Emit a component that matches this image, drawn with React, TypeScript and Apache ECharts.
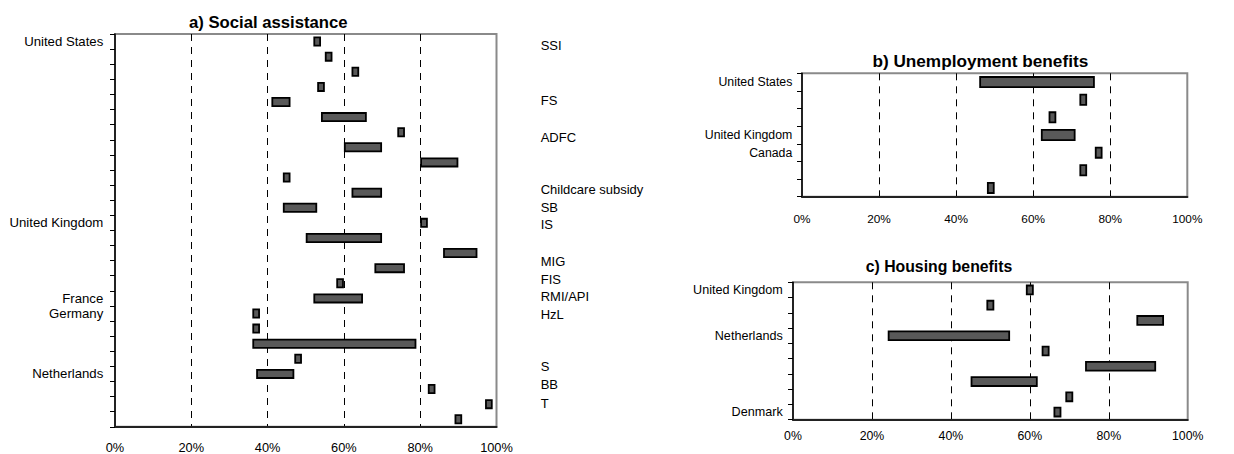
import React, { useEffect, useRef } from "react";
import * as echarts from "echarts";

// ---------- data ----------
// a) Social assistance (rows top to bottom)
const saCountries = [
  "United States", "", "", "", "", "", "", "", "", "", "", "",
  "United Kingdom", "", "", "", "", "France", "Germany", "", "", "",
  "Netherlands", "", "", "",
];
const saStart = [52, 55, 62, 53, 41, 54, 74, 60, 80, 44, 62, 44, 80, 50, 86, 68, 58, 52, 36, 36, 36, 47, 37, 82, 97, 89];
const saEnd = [54, 57, 64, 55, 46, 66, 76, 70, 90, 46, 70, 53, 82, 70, 95, 76, 60, 65, 38, 38, 79, 49, 47, 84, 99, 91];
const saPrograms = ["SSI", "FS", "ADFC", "Childcare subsidy", "SB", "IS", "MIG", "FIS", "RMI/API", "HzL", "S", "BB", "T"];

// b) Unemployment benefits
const ubCountries = ["United States", "", "", "United Kingdom", "Canada", "", ""];
const ubStart = [46, 72, 64, 62, 76, 72, 48];
const ubEnd = [76, 74, 66, 71, 78, 74, 50];

// c) Housing benefits
const hbCountries = ["United Kingdom", "", "", "Netherlands", "", "", "", "", "Denmark"];
const hbStart = [59, 49, 87, 24, 63, 74, 45, 69, 66];
const hbEnd = [61, 51, 94, 55, 65, 92, 62, 71, 68];

// x axis ticks (percent)
const xMin = 0;
const xMax = 100;
const xStep = 20;

const titles = ["a) Social assistance", "b) Unemployment benefits", "c) Housing benefits"];

// ---------- layout (pixels) ----------
const programLabelX = 540.7;
const programLabelY = [45, 100, 137, 189, 207, 224, 261, 279, 296, 314, 366, 384, 403];

const FONT = 'Arial, "Liberation Sans", sans-serif';

const panels = [
  {
    countries: saCountries, start: saStart, end: saEnd,
    grid: { left: 115, top: 34, width: 381.5, height: 396 },
    barWidth: 10, yFont: 13.2, xFont: 12.8, yMargin: 11.7, xMargin: 14.2,
    title: { x: 268.3, y: 22.5, size: 16.7 },
  },
  {
    countries: ubCountries, start: ubStart, end: ubEnd,
    grid: { left: 802, top: 73.3, width: 385.3, height: 123.4 },
    barWidth: 12, yFont: 12.3, xFont: 11.8, yMargin: 9.7, xMargin: 16.7,
    title: { x: 980.3, y: 60.5, size: 17.2 },
  },
  {
    countries: hbCountries, start: hbStart, end: hbEnd,
    grid: { left: 793, top: 282.3, width: 394.7, height: 137.4 },
    barWidth: 10.7, yFont: 12.6, xFont: 12.3, yMargin: 10.3, xMargin: 10.5,
    title: { x: 939, y: 266, size: 15.8 },
  },
];

export default function App() {
  const ref = useRef<HTMLDivElement>(null);

  useEffect(() => {
    if (!ref.current) return;
    const chart = echarts.init(ref.current, undefined, { renderer: "svg" });

    const grids = panels.map((p) => ({
      ...p.grid,
      show: true,
      borderColor: "#8a8a8a",
      borderWidth: 2,
      backgroundColor: "transparent",
      containLabel: false,
    }));

    const xAxes = panels.map((p, i) => ({
      type: "value",
      gridIndex: i,
      min: xMin,
      max: xMax,
      interval: xStep,
      axisLine: { show: true, onZero: false, lineStyle: { color: "#222", width: 2 } },
      axisTick: { show: false },
      axisLabel: {
        formatter: "{value}%",
        color: "#000",
        fontFamily: FONT,
        fontSize: p.xFont,
        margin: p.xMargin,
      },
      splitLine: {
        show: true,
        showMinLine: false,
        showMaxLine: false,
        lineStyle: { color: "#000", width: 1, type: [7, 6] },
      },
    }));

    const yAxes = panels.map((p, i) => ({
      type: "category",
      gridIndex: i,
      inverse: true,
      data: p.countries.map((_, k) => String(k)),
      axisLine: { show: true, onZero: false, lineStyle: { color: "#000", width: 1.5 } },
      axisTick: { show: true, interval: 0, length: 5, lineStyle: { color: "#000", width: 1 } },
      axisLabel: {
        interval: 0,
        formatter: (_v: string, idx: number) => p.countries[idx],
        color: "#000",
        fontFamily: FONT,
        fontSize: p.yFont,
        margin: p.yMargin,
      },
      splitLine: { show: false },
    }));

    const series: any[] = [];
    panels.forEach((p, i) => {
      series.push({
        type: "bar",
        xAxisIndex: i,
        yAxisIndex: i,
        stack: "s" + i,
        silent: true,
        barWidth: p.barWidth,
        itemStyle: { color: "transparent", borderWidth: 0 },
        data: p.start,
      });
      series.push({
        type: "bar",
        xAxisIndex: i,
        yAxisIndex: i,
        stack: "s" + i,
        silent: true,
        barWidth: p.barWidth,
        itemStyle: { color: "#595959", borderColor: "#000", borderWidth: 1.8 },
        data: p.end.map((e, k) => e - p.start[k]),
      });
    });

    const graphics: any[] = [];
    panels.forEach((p, i) => {
      graphics.push({
        type: "text",
        x: p.title.x,
        y: p.title.y,
        silent: true,
        style: {
          text: titles[i],
          fontFamily: FONT,
          fontWeight: "bold",
          fontSize: p.title.size,
          fill: "#000",
          align: "center",
          verticalAlign: "middle",
        },
      });
    });
    saPrograms.forEach((name, k) => {
      graphics.push({
        type: "text",
        x: programLabelX,
        y: programLabelY[k],
        silent: true,
        style: {
          text: name,
          fontFamily: FONT,
          fontSize: 13,
          fill: "#000",
          align: "left",
          verticalAlign: "middle",
        },
      });
    });

    chart.setOption({
      animation: false,
      backgroundColor: "#fff",
      grid: grids,
      xAxis: xAxes,
      yAxis: yAxes,
      series,
      graphic: graphics,
    });

    return () => chart.dispose();
  }, []);

  return (
    <div
      ref={ref}
      style={{ position: "absolute", left: 0, top: 0, width: 1234, height: 454 }}
    />
  );
}
